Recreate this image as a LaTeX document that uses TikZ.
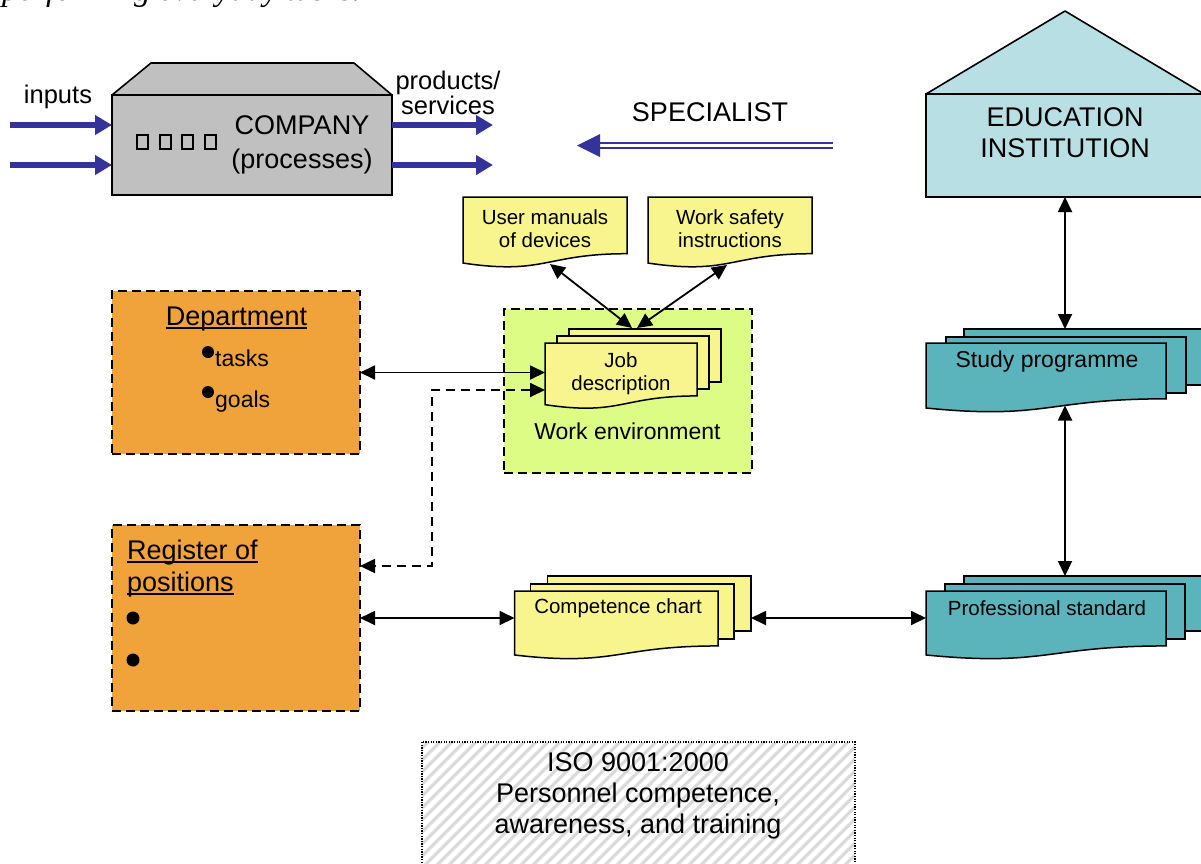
\documentclass[tikz,border=0pt]{standalone}
\usepackage{fontspec}
\setmainfont{Liberation Sans}
\newfontfamily\topserif{Liberation Serif}
\usetikzlibrary{arrows.meta,calc}
\definecolor{compgray}{HTML}{C0C0C0}
\definecolor{flowblue}{HTML}{333399}
\definecolor{edublue}{HTML}{B8DFE3}
\definecolor{teal2}{HTML}{5BB3BB}
\definecolor{docyellow}{HTML}{F8F48E}
\definecolor{envgreen}{HTML}{DCFC86}
\definecolor{deptorange}{HTML}{F0A23B}
\definecolor{hatchgray}{HTML}{D9D9D9}
\newcommand\myul[1]{\setbox0\hbox{#1}\rlap{\rule[-4pt]{\wd0}{2pt}}\box0}
\newcommand\docback[4]{\draw[docline,fill=#2] ($(#1.north west)+(#3,#4)$) rectangle ($(#1.north east)!0.802!(#1.south east)+(#3,#4)$);}
\newcommand\docfront[2]{\draw[docline,fill=#2] (#1.north west) -- (#1.north east) -- ($(#1.north east)!0.802!(#1.south east)$) .. controls ($(#1.north)!0.802!(#1.south)$) and ($(#1.north)!1.107!(#1.south)$) .. ($(#1.north west)!0.934!(#1.south west)$) -- cycle;}
\begin{document}
\begin{tikzpicture}[x=1pt,y=-1pt,
  box/.style={draw=black,line width=1.6pt,inner sep=0pt,outer sep=0pt,anchor=north west},
  dbox/.style={box,dash pattern=on 9pt off 5pt},
  docnode/.style={inner sep=0pt,outer sep=0pt,anchor=north west},
  docline/.style={draw=black,line width=1.5pt,line join=miter},
  conn/.style={line width=1.8pt,arrows={Triangle[length=15pt,width=14pt]-Triangle[length=15pt,width=14pt]}},
  dconn/.style={conn,dash pattern=on 9pt off 6pt},
  bluearrow/.style={draw=flowblue,line width=6.5pt,arrows={-Triangle[length=17pt,width=19pt]}},
  txtbig/.style={font=\fontsize{27}{32}\selectfont,align=center,inner sep=0pt},
  txtmid/.style={font=\fontsize{23}{27}\selectfont,align=center,inner sep=0pt},
  txtsmall/.style={font=\fontsize{20.5}{23}\selectfont,align=center,inner sep=0pt},
  txtlbl/.style={font=\fontsize{25.5}{25}\selectfont,align=center,inner sep=0pt}
]
\useasboundingbox (0,0) rectangle (1201,863);
\clip (0,0) rectangle (1201,863);

% partial text at top (cut off by the picture's upper edge)
\node[anchor=base west,inner sep=0pt,font=\topserif\itshape\fontsize{33}{33}\selectfont] (toptext) at (2,0) {performing everyday tasks.};

% company
\node[box,fill=compgray,minimum width=280pt,minimum height=100pt] (comp) at (112,95) {};
\draw[line width=1.6pt,fill=compgray,line join=round] (comp.north west) -- ++(39,-32) -- ++(203,0) -- (comp.north east) -- cycle;
\foreach \x in {137,160,182,205} \draw[line width=1.7pt] (\x,135) rectangle ++(11,14);
\node[txtbig,font=\fontsize{27}{34}\selectfont] (compt) at (302,145) {COMPANY\\(processes)};
\coordinate (in1) at (10,125); \coordinate (in2) at (10,165);
\coordinate (out1) at (493,125); \coordinate (out2) at (493,165);
\draw[bluearrow] (in1) -- (in1 -| comp.west);
\draw[bluearrow] (in2) -- (in2 -| comp.west);
\draw[bluearrow] (comp.east |- out1) -- (out1);
\draw[bluearrow] (comp.east |- out2) -- (out2);
\node[txtlbl] (inputs) at (58,97) {inputs};
\node[txtlbl] (prodt) at (448,93) {products/\\services};

% specialist
\node[txtbig] (spec) at (710,112) {SPECIALIST};
\coordinate (specR) at (833,145.5); \coordinate (specL) at (577,145.5);
\draw[flowblue,line width=2pt,double=white,double distance=2.6pt] (specR) -- ($(specL)+(22,0)$);
\fill[flowblue] (specL) -- ++(23,-11.5) -- ++(0,23) -- cycle;

% education institution
\node[box,fill=edublue,minimum width=278pt,minimum height=103pt] (edu) at (926,94) {};
\draw[line width=1.6pt,fill=edublue,line join=round] (edu.north west) -- (1065,11) -- (edu.north east) -- cycle;
\node[txtbig,font=\fontsize{27}{31}\selectfont] (edut) at (1065,132.5) {EDUCATION\\INSTITUTION};

% user manuals / work safety
\node[docnode,minimum width=164pt,minimum height=70.7pt] (um) at (463,197) {};
\docfront{um}{docyellow}
\node[txtsmall] (umt) at (545,228.5) {User manuals\\of devices};
\node[docnode,minimum width=164pt,minimum height=70.7pt] (ws) at (648,197) {};
\docfront{ws}{docyellow}
\node[txtsmall] (wst) at (730,228.5) {Work safety\\instructions};

% work environment
\node[dbox,fill=envgreen,minimum width=248pt,minimum height=164pt] (env) at (504,309) {};
\node[txtmid] (envt) at (627.5,431) {Work environment};

% job description
\node[docnode,minimum width=152pt,minimum height=66pt] (jd) at (545,343) {};
\docback{jd}{docyellow}{24}{-14}
\docback{jd}{docyellow}{12}{-7}
\docfront{jd}{docyellow}
\node[txtsmall] (jdt) at (621,374) {Job\\description};

% department
\node[dbox,fill=deptorange,minimum width=248pt,minimum height=163pt] (dept) at (112,291) {};
\node[txtbig,anchor=base] (deptt) at (236.5,325) {\myul{Department}};
\fill (208,352) circle (6pt);
\fill (208,392) circle (6pt);
\node[txtmid,anchor=base west] (tasks) at (215,366) {tasks};
\node[txtmid,anchor=base west] (goals) at (215,407) {goals};

% register of positions
\node[dbox,fill=deptorange,minimum width=248pt,minimum height=186pt] (reg) at (112,525) {};
\node[txtbig,anchor=base west] (regt1) at (127,559) {\myul{Register of}};
\node[txtbig,anchor=base west] (regt2) at (127,591) {\myul{positions}};
\fill (133,618) circle (6.5pt);
\fill (133,660) circle (6.5pt);

% competence chart
\node[docnode,minimum width=203.5pt,minimum height=68.5pt] (cc) at (514.5,591) {};
\docback{cc}{docyellow}{33}{-15}
\docback{cc}{docyellow}{16}{-7}
\docfront{cc}{docyellow}
\node[txtsmall] (cct) at (618,608) {Competence chart};

% study programme
\node[docnode,minimum width=240pt,minimum height=69.6pt] (sp) at (926,343) {};
\docback{sp}{teal2}{38}{-14}
\docback{sp}{teal2}{20}{-6}
\docfront{sp}{teal2}
\node[txtmid] (spt) at (1047,362) {Study programme};

% professional standard
\node[docnode,minimum width=240pt,minimum height=68.5pt] (ps) at (926,591) {};
\docback{ps}{teal2}{38}{-15}
\docback{ps}{teal2}{19}{-7}
\docfront{ps}{teal2}
\node[txtsmall] (pst) at (1047,608) {Professional standard};

% ISO box
\node[docnode,minimum width=433pt,minimum height=140pt] (iso) at (422,742) {};
\begin{scope}
\clip (iso.north west) rectangle (iso.south east);
\foreach \i in {0,...,50} \draw[hatchgray,line width=3pt] ({270+\i*12},900) -- ++(170,-170);
\end{scope}
\draw[line width=1.3pt,dash pattern=on 1.3pt off 1.3pt] (iso.north west) rectangle (iso.south east);
\node[txtbig,font=\fontsize{27}{31}\selectfont] (isot) at (638,796) {ISO 9001:2000\\Personnel competence,\\awareness, and training};

% connectors
\coordinate (umb) at ($(um.north west)+(87,67)$);
\coordinate (wsb) at ($(ws.north west)+(79,68)$);
\coordinate (jdtop1) at ($(jd.north west)+(87,-15)$);
\coordinate (jdtop2) at ($(jd.north west)+(92,-15)$);
\draw[conn] (umb) -- (jdtop1);
\draw[conn] (wsb) -- (jdtop2);
\draw[conn] (dept.east) -- (dept.east -| jd.west);
\coordinate (jdd) at ($(jd.north west)+(0,47)$);
\coordinate (regd) at ($(reg.north east)+(0,41)$);
\draw[dconn] (jdd) -| ($(regd)+(72,0)$) -- (regd);
\draw[conn] (reg.east) -- (reg.east -| cc.west);
\coordinate (ccR) at ($(cc.north east)+(33,27)$);
\draw[conn] (ccR) -- (ccR -| ps.west);
\coordinate (spback) at ($(sp.north west)+(38,-14)$);
\draw[conn] (edu.south) -- (edu.south |- spback);
\coordinate (spbot) at ($(sp.north west)+(139,62.5)$);
\coordinate (psback) at ($(ps.north west)+(38,-15)$);
\draw[conn] (spbot) -- (spbot |- psback);
\end{tikzpicture}
\end{document}
